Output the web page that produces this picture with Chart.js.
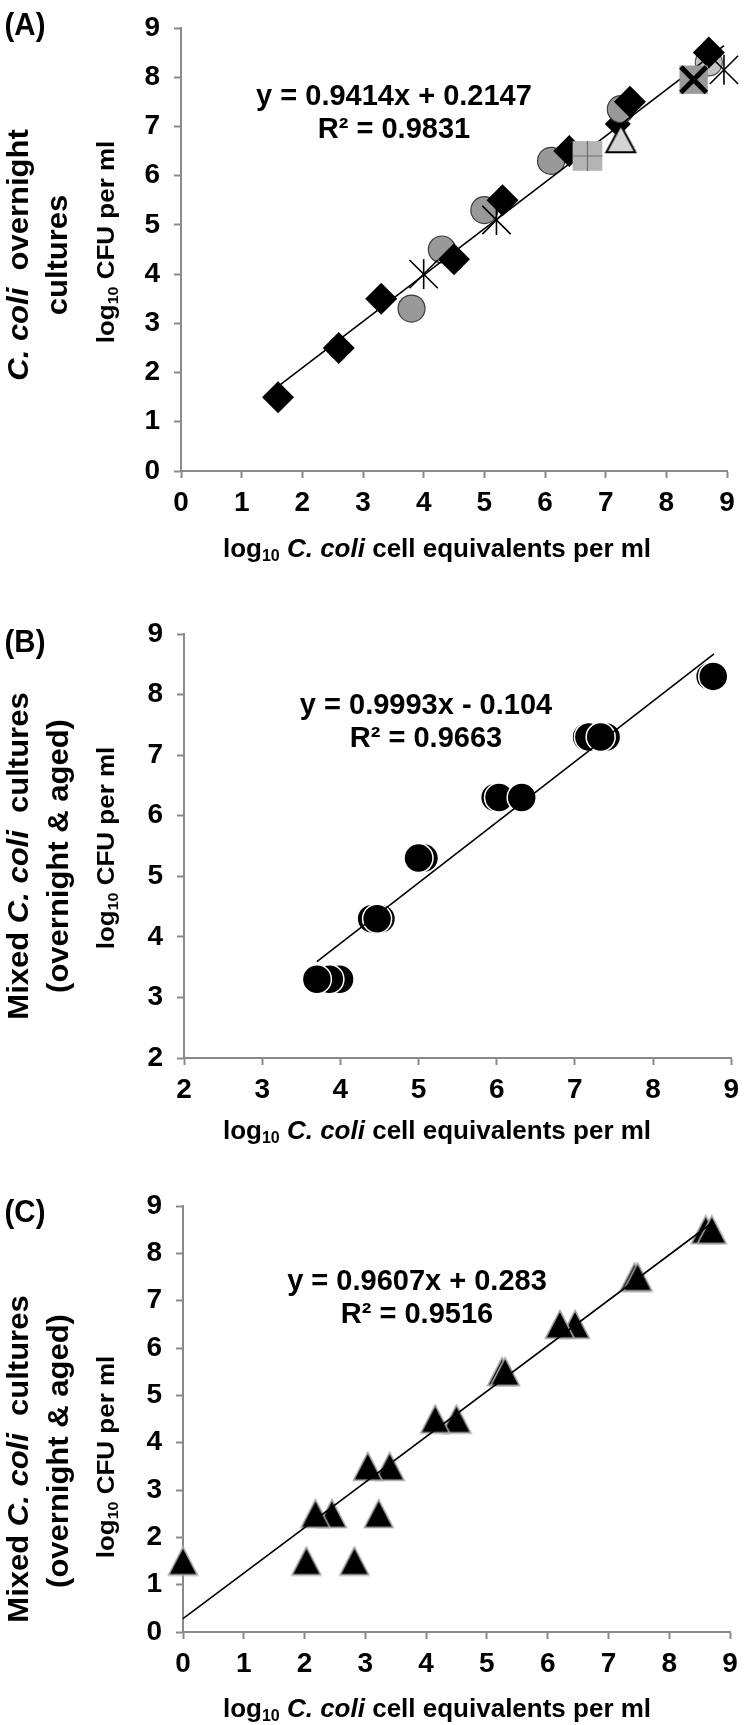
<!DOCTYPE html>
<html>
<head>
<meta charset="utf-8">
<script src="https://cdn.jsdelivr.net/npm/chart.js@4.4.1/dist/chart.umd.min.js"></script>
<style>
  html, body { margin: 0; padding: 0; background: #fff; }
  body { width: 750px; height: 1725px; position: relative; overflow: hidden; }
  .panel { position: absolute; left: 0; width: 750px; }
</style>
</head>
<body>
<div class="panel" style="top:0;height:575px"><canvas id="chartA"></canvas></div>
<div class="panel" style="top:575px;height:570px"><canvas id="chartB"></canvas></div>
<div class="panel" style="top:1145px;height:580px"><canvas id="chartC"></canvas></div>
<script>
const FONT = "'Liberation Sans', Arial, sans-serif";
const NARROW = "'Liberation Sans Narrow', 'Liberation Sans', Arial, sans-serif";
const AXIS_GREY = '#8a8a8a';

// ---- panel A : C. coli overnight cultures ----
const aTicks = [0, 1, 2, 3, 4, 5, 6, 7, 8, 9];
const aDiamondX = [1.6, 2.6, 3.3, 4.5, 5.3, 6.4, 7.4, 8.7];
const aDiamondY = [1.5, 2.5, 3.5, 4.3, 5.5, 6.5, 7.5, 8.5];
const aHiddenDiamondX = [7.2];
const aHiddenDiamondY = [7.05];
const aCircleX = [3.8, 4.3, 5.0, 6.1, 7.25];
const aCircleY = [3.3, 4.5, 5.3, 6.3, 7.35];
const aLightCircleX = [8.7];
const aLightCircleY = [8.3];
const aPlusSquareX = [6.7];
const aPlusSquareY = [6.4];
const aCrossSquareX = [8.45];
const aCrossSquareY = [7.95];
const aTriangleX = [7.25];
const aTriangleY = [6.75];
const aStarX = [4.0, 5.2, 8.95];
const aStarY = [4.0, 5.1, 8.15];
const aTrendX = [1.6, 8.95];
const aTrendY = [1.721, 8.640];
const aEquation = ['y = 0.9414x + 0.2147', 'R\u00b2 = 0.9831'];

// ---- panel B : mixed cultures, circles ----
const bTicks = [2, 3, 4, 5, 6, 7, 8, 9];
const bCircleX = [3.99, 3.86, 3.7, 4.4, 4.52, 4.47, 5.07, 5.0, 5.98, 6.03, 6.32, 7.4, 7.15, 7.18, 7.33, 8.73, 8.77];
const bCircleY = [3.3, 3.3, 3.3, 4.3, 4.3, 4.3, 5.3, 5.3, 6.3, 6.3, 6.3, 7.3, 7.3, 7.3, 7.3, 8.3, 8.3];
const bTrendX = [3.7, 8.78];
const bTrendY = [3.593, 8.670];
const bEquation = ['y = 0.9993x - 0.104', 'R\u00b2 = 0.9663'];

// ---- panel C : mixed cultures, triangles ----
const cTicks = [0, 1, 2, 3, 4, 5, 6, 7, 8, 9];
const cTriangleX = [0, 2.03, 2.82, 2.45, 2.18, 3.22, 3.4, 3.04, 4.5, 4.15, 5.25, 5.3, 6.45, 6.2, 7.43, 7.48, 8.6, 8.7];
const cTriangleY = [1.5, 1.5, 1.5, 2.5, 2.5, 2.5, 3.5, 3.5, 4.5, 4.5, 5.5, 5.5, 6.5, 6.5, 7.5, 7.5, 8.5, 8.5];
const cTrendX = [0, 8.7];
const cTrendY = [0.283, 8.641];
const cEquation = ['y = 0.9607x + 0.283', 'R\u00b2 = 0.9516'];

function pts(xs, ys) {
  return xs.map((x, i) => ({ x: x, y: ys[i] }));
}

// Excel-like triangle marker as a small canvas, used as pointStyle
function triangleImage(w, h, fill, stroke, lw) {
  const c = document.createElement('canvas');
  c.width = Math.ceil(w + lw * 2);
  c.height = Math.ceil(h + lw * 2);
  const g = c.getContext('2d');
  g.beginPath();
  g.moveTo(c.width / 2, lw);
  g.lineTo(c.width - lw, c.height - lw);
  g.lineTo(lw, c.height - lw);
  g.closePath();
  g.fillStyle = fill;
  g.fill();
  g.lineWidth = lw;
  g.strokeStyle = stroke;
  g.stroke();
  return c;
}

function markers(xs, ys, style, radius, fill, border, width, extra) {
  return Object.assign({
    data: pts(xs, ys),
    pointStyle: style,
    pointRadius: radius,
    pointBackgroundColor: fill,
    pointBorderColor: border,
    pointBorderWidth: width,
    showLine: false,
    clip: false
  }, extra || {});
}

function trend(xs, ys) {
  return {
    data: pts(xs, ys),
    showLine: true,
    borderColor: '#000',
    borderWidth: 1.6,
    pointRadius: 0,
    clip: false
  };
}

// text helpers
function runFont(r, size) {
  const s = r.sub ? Math.round(size * 0.62) : size;
  return (r.it ? 'italic ' : '') + 'bold ' + s + 'px ' + FONT;
}

function drawRuns(ctx, runs, x, y, size, rotate, sx, sy) {
  ctx.save();
  ctx.translate(x, y);
  if (rotate) ctx.rotate(-Math.PI / 2);
  ctx.scale(sx || 1, sy || 1);
  let w = 0;
  runs.forEach(r => { ctx.font = runFont(r, size); w += ctx.measureText(r.t).width; });
  let cx = -w / 2;
  ctx.fillStyle = '#000';
  ctx.textBaseline = 'middle';
  ctx.textAlign = 'left';
  runs.forEach(r => {
    ctx.font = runFont(r, size);
    ctx.fillText(r.t, cx, r.sub ? size * 0.25 : 0);
    cx += ctx.measureText(r.t).width;
  });
  ctx.restore();
}

const log10CFU = [{ t: 'log' }, { t: '10', sub: true }, { t: ' CFU per ml' }];
const log10Cells = [{ t: 'log' }, { t: '10', sub: true }, { t: ' ' }, { t: 'C. coli', it: true }, { t: ' cell equivalents per ml' }];
const mixedLine = [{ t: 'Mixed ' }, { t: 'C. coli', it: true }, { t: '  cultures' }];
const agedLine = [{ t: '(overnight & aged)' }];

function textPlugin(spec) {
  return {
    id: 'panelText',
    afterDraw(chart) {
      const ctx = chart.ctx;
      drawRuns(ctx, [{ t: spec.label }], 25, spec.labelY, 32, false, 0.92, 1);
      spec.yTitles.forEach(t => drawRuns(ctx, t.runs, t.x, t.y, t.size, true, 1, t.squeeze));
      drawRuns(ctx, log10Cells, 437, spec.xTitleY, 26);
      drawRuns(ctx, [{ t: spec.eq[0] }], spec.eqX, spec.eqY, 29);
      drawRuns(ctx, [{ t: spec.eq[1] }], spec.eqX, spec.eqY + 33, 29);
    }
  };
}

function axis(ticks, extent, fit) {
  return {
    type: 'linear',
    min: ticks[0],
    max: ticks[ticks.length - 1],
    afterBuildTicks: s => { s.ticks = ticks.map(v => ({ value: v })); },
    afterFit: fit,
    border: { display: true, color: AXIS_GREY, width: 2 },
    grid: { drawOnChartArea: false, drawTicks: true, tickLength: 7, tickWidth: 2, tickColor: AXIS_GREY },
    ticks: {
      color: '#000',
      padding: extent,
      font: { family: NARROW, size: 28, weight: 'bold', lineHeight: 1 }
    }
  };
}

function makeChart(id, datasets, xTicks, yTicks, area, spec) {
  // area: left, right, top, bottom of the plot in canvas coords, h = canvas height
  const xAxisH = 60;
  return new Chart(document.getElementById(id), {
    type: 'scatter',
    data: { datasets: datasets },
    options: {
      responsive: true,
      maintainAspectRatio: false,
      animation: false,
      events: [],
      layout: {
        padding: { left: 0, top: area.top, right: 750 - area.right, bottom: area.h - area.bottom - xAxisH }
      },
      plugins: { legend: { display: false }, tooltip: { enabled: false } },
      scales: {
        x: axis(xTicks, 11, s => { s.height = xAxisH; }),
        y: axis(yTicks, 14, s => { s.width = area.left; })
      }
    },
    plugins: [textPlugin(spec)]
  });
}

const whiteTriangle = triangleImage(29, 27, '#d4d4d4', '#000', 2);
const blackTriangle = triangleImage(28, 27, '#000', '#a8a8a8', 1.6);

// panel A (first dataset drawn on top)
makeChart('chartA', [
  markers(aStarX, aStarY, 'crossRot', 20, '#000', '#000', 1.6),
  markers(aStarX, aStarY, 'line', 15, '#000', '#000', 1.6, { pointRotation: 90 }),
  markers(aCrossSquareX, aCrossSquareY, 'crossRot', 18, '#000', '#000', 5),
  markers(aCrossSquareX, aCrossSquareY, 'rect', 20, '#9a9a9a', '#9a9a9a', 0),
  markers(aPlusSquareX, aPlusSquareY, 'cross', 15, '#6e6e6e', '#6e6e6e', 1.2),
  markers(aPlusSquareX, aPlusSquareY, 'rect', 21, '#b4b4b4', '#b4b4b4', 0),
  markers(aDiamondX, aDiamondY, 'rectRot', 16, '#000', '#000', 0),
  markers(aTriangleX, aTriangleY, whiteTriangle, 14, '#d4d4d4', '#000', 2),
  trend(aTrendX, aTrendY),
  markers(aCircleX, aCircleY, 'circle', 13.5, '#999999', '#3c3c3c', 1.2),
  markers(aLightCircleX, aLightCircleY, 'circle', 13.5, '#c4c4c4', '#555', 1.2),
  markers(aHiddenDiamondX, aHiddenDiamondY, 'rectRot', 13, '#000', '#000', 0)
], aTicks, aTicks, { left: 181, right: 735, top: 14, bottom: 471, h: 575 }, {
  label: '(A)', labelY: 26, xTitleY: 550, eq: aEquation, eqX: 394, eqY: 97,
  yTitles: [
    { runs: [{ t: 'C. coli', it: true }, { t: '  overnight' }], x: 20, y: 255, size: 31, squeeze: 0.95 },
    { runs: [{ t: 'cultures' }], x: 59, y: 255, size: 31, squeeze: 0.95 },
    { runs: log10CFU, x: 108, y: 242, size: 26, squeeze: 0.9 }
  ]
});

// panel B
makeChart('chartB', [
  trend(bTrendX, bTrendY),
  markers(bCircleX, bCircleY, 'circle', 14.5, '#000', '#fff', 1.5)
], bTicks, bTicks, { left: 184, right: 733, top: 59, bottom: 483, h: 570 }, {
  label: '(B)', labelY: 68, xTitleY: 557, eq: bEquation, eqX: 426, eqY: 131,
  yTitles: [
    { runs: mixedLine, x: 20, y: 281, size: 31, squeeze: 0.95 },
    { runs: agedLine, x: 60, y: 281, size: 31, squeeze: 0.95 },
    { runs: log10CFU, x: 108, y: 273, size: 26, squeeze: 0.9 }
  ]
});

// panel C
makeChart('chartC', [
  trend(cTrendX, cTrendY),
  markers(cTriangleX, cTriangleY, blackTriangle, 14, '#000', '#a8a8a8', 1.6)
], cTicks, cTicks, { left: 183, right: 730, top: 61, bottom: 487, h: 580 }, {
  label: '(C)', labelY: 68, xTitleY: 565, eq: cEquation, eqX: 417, eqY: 137,
  yTitles: [
    { runs: mixedLine, x: 20, y: 314, size: 31, squeeze: 0.95 },
    { runs: agedLine, x: 60, y: 306, size: 31, squeeze: 0.95 },
    { runs: log10CFU, x: 108, y: 312, size: 26, squeeze: 0.9 }
  ]
});
</script>
</body>
</html>
